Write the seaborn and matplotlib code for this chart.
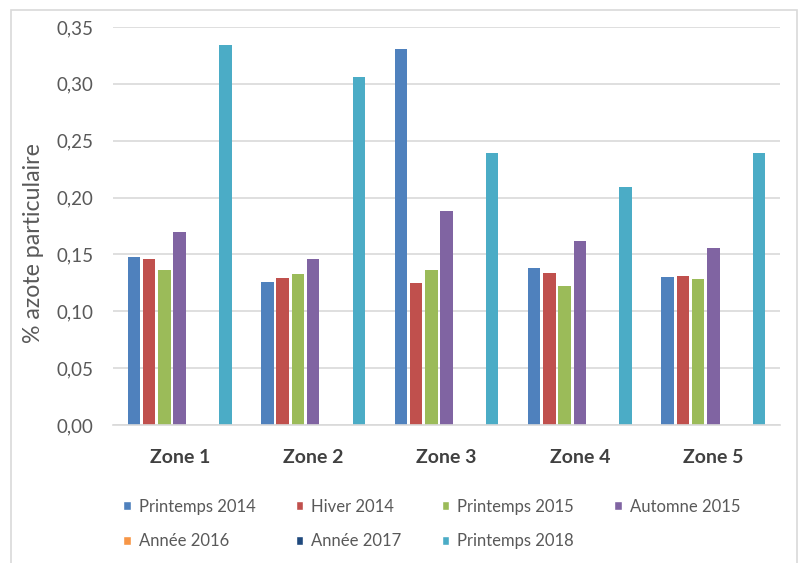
import numpy as np
import pandas as pd
import matplotlib
matplotlib.use("Agg")
import matplotlib.pyplot as plt
import seaborn as sns
from matplotlib.patches import Rectangle, Patch
from matplotlib.ticker import FuncFormatter, MultipleLocator

# Données
zones = ["Zone 1", "Zone 2", "Zone 3", "Zone 4", "Zone 5"]
series = ["Printemps 2014", "Hiver 2014", "Printemps 2015", "Automne 2015",
          "Année 2016", "Année 2017", "Printemps 2018"]
printemps_2014 = [0.148, 0.126, 0.331, 0.138, 0.130]
hiver_2014 = [0.146, 0.129, 0.125, 0.134, 0.131]
printemps_2015 = [0.136, 0.133, 0.136, 0.122, 0.128]
automne_2015 = [0.170, 0.146, 0.188, 0.162, 0.156]
annee_2016 = [np.nan] * 5
annee_2017 = [np.nan] * 5
printemps_2018 = [0.334, 0.306, 0.239, 0.209, 0.239]

couleurs = ["#4F81BD", "#C0504D", "#9BBB59", "#8064A2", "#F79646", "#1F497D", "#4BACC6"]

valeurs = [printemps_2014, hiver_2014, printemps_2015, automne_2015,
           annee_2016, annee_2017, printemps_2018]
df = pd.DataFrame({
    "Zone": np.tile(zones, len(series)),
    "Série": np.repeat(series, len(zones)),
    "Valeur": np.concatenate(valeurs),
})

sns.set_style("white")
plt.rcParams['font.family'] = ['Lato', 'DejaVu Sans']

fig = plt.figure(figsize=(7.99, 5.63), dpi=100)
ax = fig.add_axes([113 / 799, 1 - 425 / 563, 667 / 799, 398 / 563])

sns.barplot(data=df, x="Zone", y="Valeur", hue="Série", order=zones,
            hue_order=series, palette=couleurs, saturation=1, width=0.8, gap=0.18,
            linewidth=0, ax=ax, legend=False)

ax.set_xlim(-0.5, 4.5)
ax.set_ylim(0, 0.35)
ax.yaxis.set_major_locator(MultipleLocator(0.05))
ax.yaxis.set_major_formatter(FuncFormatter(lambda v, p: f"{v:.2f}".replace(".", ",")))
ax.grid(axis="y", color="#D9D9D9", linewidth=1.2)
ax.set_axisbelow(True)
for s in ["top", "right", "left"]:
    ax.spines[s].set_visible(False)
ax.spines["bottom"].set_color("#D9D9D9")
ax.spines["bottom"].set_linewidth(1.2)
ax.tick_params(axis="both", length=0)
ax.tick_params(axis="y", labelsize=13.5, labelcolor="#595959", pad=14)
ax.tick_params(axis="x", labelsize=14, labelcolor="#404040", pad=17)
for t in ax.get_xticklabels():
    t.set_fontweight("bold")
ax.set_xlabel("")
ax.set_ylabel("% azote particulaire", fontsize=16.7, color="#595959")
ax.yaxis.set_label_coords(-0.103, 0.457)

# Légende sur deux lignes (ordre par ligne comme dans Excel)
ordre = [0, 4, 1, 5, 2, 6, 3]
handles = [Patch(facecolor=couleurs[i]) for i in ordre]
labels = [series[i] for i in ordre]
fig.legend(handles, labels, ncol=4, loc="center left",
           bbox_to_anchor=(123 / 799, 1 - 524 / 563), frameon=False,
           fontsize=12, labelcolor="#595959", handlelength=0.45, handleheight=0.45,
           handletextpad=0.5, columnspacing=2.4, labelspacing=1.1,
           borderpad=0, borderaxespad=0)

# Cadre du graphique
fig.patches.append(Rectangle((11 / 799, -0.01), 786 / 799, 1 - 10 / 563 + 0.01,
                             transform=fig.transFigure, fill=False,
                             edgecolor="#D9D9D9", linewidth=1.2))

fig.savefig("out.png", dpi=100)
